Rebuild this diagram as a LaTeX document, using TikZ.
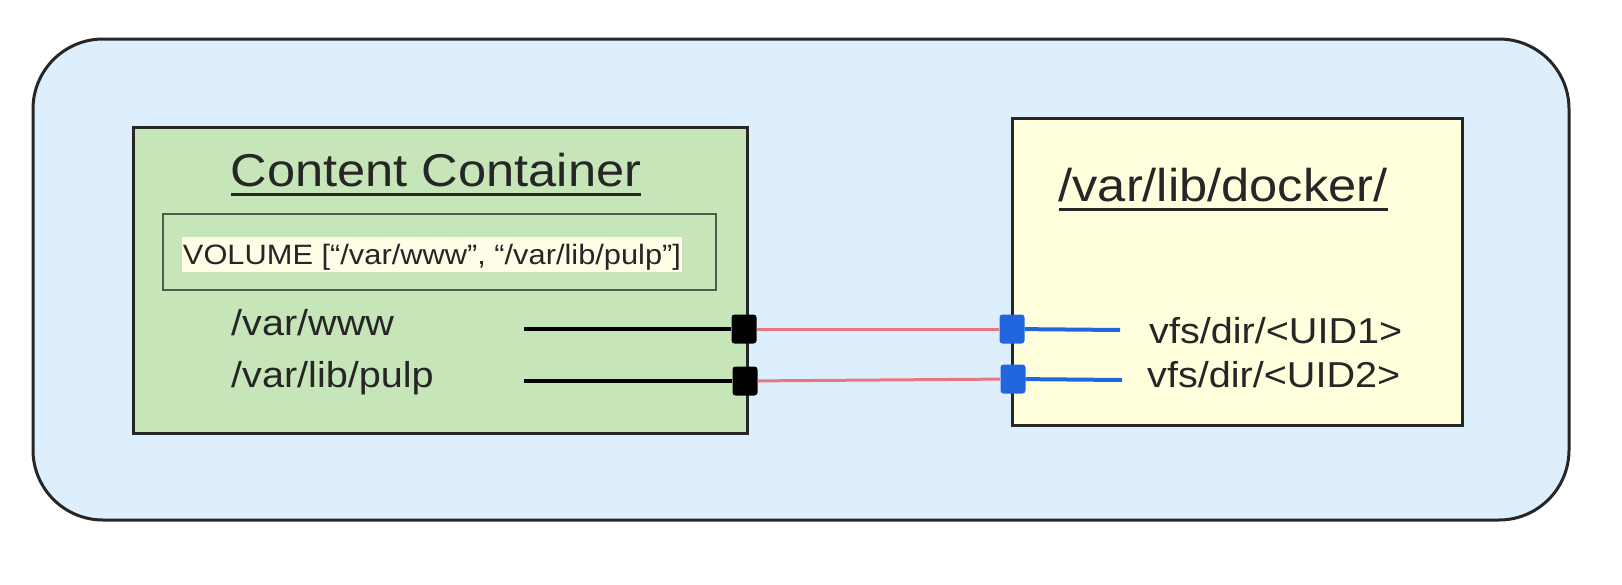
\documentclass[tikz,border=0pt]{standalone}
\usepackage{fontspec}
\setmainfont{Liberation Sans}[FakeStretch=1.1]
\usetikzlibrary{positioning}
\definecolor{hostblue}{HTML}{DDEFFD}
\definecolor{boxgreen}{HTML}{C6E6B9}
\definecolor{boxyellow}{HTML}{FFFEDD}
\definecolor{markyellow}{HTML}{FFFDE6}
\definecolor{portblue}{HTML}{2166DD}
\definecolor{linkred}{HTML}{E8787F}
\definecolor{inkgray}{HTML}{262626}
\newcommand{\ulined}[1]{\setbox0=\hbox{#1}\rlap{\rule[-9.5pt]{\wd0}{3pt}}\box0}

\begin{document}
\begin{tikzpicture}[x=1pt,y=-1pt,
	hostbox/.style={draw=inkgray, fill=hostblue, line width=3pt, rounded corners=70pt},
	ctbox/.style={draw=inkgray, fill=boxgreen, line width=3pt},
	dkbox/.style={draw=inkgray, fill=boxyellow, line width=3pt},
	volbox/.style={draw=black!60!boxgreen, line width=2pt},
	port/.style={inner sep=0pt, minimum width=25pt, minimum height=29pt, rounded corners=3pt},
	ttl/.style={inner sep=0pt, text=inkgray, anchor=base, font=\fontsize{46}{55}\selectfont},
	lbl/.style={inner sep=0pt, text=inkgray, anchor=base west, font=\fontsize{36}{43}\selectfont}]
	\useasboundingbox (0,0) rectangle (1622,584);
	% boxes
	\node (host) [hostbox, minimum width=1536pt, minimum height=481pt] at (801,279.5) {};
	\node (content) [ctbox, minimum width=614pt, minimum height=306pt] at (440,280) {};
	\node (docker) [dkbox, minimum width=450pt, minimum height=307pt] at (1237,271.5) {};
	\node (volume) [volbox, minimum width=553pt, minimum height=76pt] at (439,252) {};
	% titles
	\node (cttitle) [ttl] at (436,186) {\ulined{Content Container}};
	\node (dktitle) [ttl] at (1223,201) {\ulined{/var/lib/docker/}};
	\node (voltext) [fill=markyellow, text=inkgray, anchor=base, inner sep=0pt, inner xsep=1pt,
		text height=27pt, text depth=8pt, font=\fontsize{28}{34}\selectfont]
		at (432,264) {VOLUME [“/var/www”, “/var/lib/pulp”]};
	% mount points
	\node (www) [lbl] at (231,335) {/var/www};
	\node (pulp) [lbl] at (231,387) {/var/lib/pulp};
	\node (uid1) [lbl] at (1149,343) {vfs/dir/<UID1>};
	\node (uid2) [lbl] at (1147,387) {vfs/dir/<UID2>};
	% ports
	\coordinate (w1) at (524,329);
	\coordinate (w2) at (524,381);
	\coordinate (u1) at (1120,330);
	\coordinate (u2) at (1122,380);
	\node (p1) [port, fill=black] at (744,329) {};
	\node (p2) [port, fill=black] at (745,381) {};
	\node (q1) [port, fill=portblue] at (1012,329) {};
	\node (q2) [port, fill=portblue] at (1013,379) {};
	% links
	\draw[line width=4pt] (w1) -- (p1);
	\draw[line width=4pt] (w2) -- (p2);
	\draw[linkred, line width=3pt] (p1) -- (q1);
	\draw[linkred, line width=3pt] (p2) -- (q2);
	\draw[portblue, line width=4pt] (q1) -- (u1);
	\draw[portblue, line width=4pt] (q2) -- (u2);
\end{tikzpicture}
\end{document}
